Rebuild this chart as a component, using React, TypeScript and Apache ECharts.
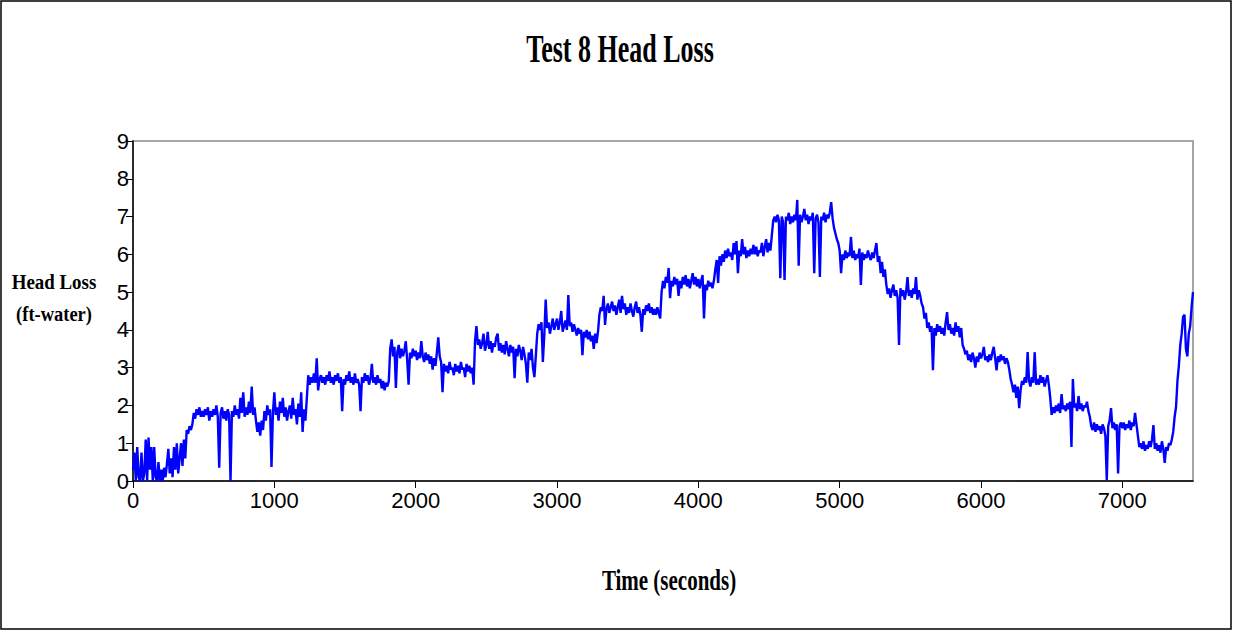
import React, { useEffect, useRef } from "react";
import * as echarts from "echarts";

// Sampling interval of the logged record (seconds)
const SAMPLE_SECONDS = 10;

// Head loss (ft-water), one reading every SAMPLE_SECONDS from t = 0 to 7500 s
// (one row = 100 s)
const headLoss: number[] = [
  0.3, 0.75, 0.0, 0.9, 0.1, 0.0, 0.75, 0.0, 0.2, 1.1,
  0.0, 1.15, 0.3, 0.9, 0.0, 0.9, 0.1, 0.0, 0.5, 0.0,
  0.3, 0.0, 0.35, 0.1, 0.45, 0.85, 0.2, 0.6, 0.1, 0.9,
  0.3, 1.0, 0.2, 0.6, 1.0, 0.4, 1.1, 0.6, 1.35, 1.25,
  1.45, 1.35, 1.5, 1.8, 1.65, 1.9, 1.75, 1.95, 1.7, 1.85,
  1.7, 1.9, 1.75, 1.95, 1.6, 1.85, 1.7, 1.9, 1.75, 2.0,
  1.7, 0.35, 1.8, 1.95, 1.65, 1.85, 1.6, 1.9, 1.75, 0.0,
  1.85, 1.7, 2.0, 1.75, 1.9, 1.65, 2.2, 1.8, 2.35, 1.7,
  1.95, 1.75, 2.1, 1.8, 2.5, 1.75, 1.95, 1.6, 1.3, 1.55,
  1.2, 1.6, 1.35, 1.85, 1.6, 2.0, 1.75, 1.9, 0.37, 1.8,
  2.35, 1.75, 1.95, 1.6, 2.1, 1.8, 2.2, 1.7, 1.95, 1.6,
  1.85, 2.0, 1.65, 2.2, 1.75, 1.9, 1.5, 2.05, 1.7, 2.35,
  1.3, 1.9, 1.6, 2.2, 2.8, 2.55, 2.75, 2.6, 2.85, 2.6,
  3.25, 2.4, 2.7, 2.8, 2.6, 2.75, 2.55, 2.8, 2.65, 2.9,
  2.6, 2.75, 2.55, 2.8, 2.65, 2.85, 2.6, 2.75, 1.85, 2.7,
  2.55, 2.8, 2.65, 2.9, 2.6, 2.75, 2.55, 2.85, 2.6, 2.7,
  2.55, 1.85, 2.75, 2.6, 2.85, 2.65, 2.8, 2.55, 2.7, 3.1,
  2.6, 2.75, 2.55, 2.8, 2.6, 2.7, 2.45, 2.65, 2.4, 2.6,
  2.5, 2.65, 3.5, 3.75, 3.3, 3.55, 2.46, 3.4, 3.6, 3.25,
  3.5, 3.3, 3.45, 3.7, 3.2, 2.55, 3.4, 3.25, 3.5, 3.3,
  3.45, 3.2, 3.4, 3.25, 3.7, 3.3, 3.15, 3.4, 3.2, 3.35,
  3.1, 3.3, 2.95, 3.25, 3.05, 3.4, 3.8, 3.3, 3.15, 2.35,
  3.1, 2.9, 3.05, 2.85, 3.15, 2.95, 3.0, 2.8, 3.1, 2.9,
  3.05, 2.85, 3.15, 2.95, 3.0, 2.75, 3.1, 2.9, 3.05, 2.85,
  3.0, 2.55, 3.7, 4.1, 3.6, 3.75, 3.5, 3.65, 3.9, 3.45,
  3.6, 3.95, 3.5, 3.7, 3.4, 3.65, 3.55, 3.8, 3.9, 3.45,
  3.65, 3.4, 3.6, 3.35, 3.7, 3.5, 3.3, 3.6, 3.4, 3.55,
  2.72, 3.5, 3.3, 3.6, 3.45, 3.2, 3.55, 3.35, 3.1, 2.6,
  3.4, 3.2, 3.5, 3.0, 2.75, 3.3, 3.9, 4.15, 4.0, 4.2,
  3.15, 3.85, 4.8, 4.05, 4.2, 3.9, 4.1, 4.3, 4.0, 4.15,
  4.3, 4.0, 4.2, 4.5, 3.95, 4.1, 4.25, 4.0, 4.92, 4.1,
  4.2, 3.95, 4.15, 4.0, 3.85, 4.05, 3.9, 4.0, 3.33, 3.95,
  3.8, 4.0, 3.75, 3.95, 3.7, 3.85, 3.5, 3.9, 3.65, 3.95,
  4.4, 4.6, 4.5, 4.9, 4.13, 4.55, 4.7, 4.45, 4.6, 4.75,
  4.5, 4.65, 4.4, 4.6, 4.8, 4.45, 4.9, 4.55, 4.7, 4.4,
  4.6, 4.45, 4.7, 4.5, 4.35, 4.6, 4.75, 4.45, 4.6, 4.4,
  3.95, 4.55, 4.4, 4.65, 4.5, 4.7, 4.45, 4.6, 4.4, 4.55,
  4.4, 4.6, 4.45, 4.3, 5.0, 5.3, 5.1, 5.4, 5.25, 5.64,
  4.84, 5.3, 5.15, 5.4, 5.2, 5.35, 4.9, 5.3, 5.1, 5.4,
  5.2, 5.45, 5.15, 5.35, 5.1, 5.3, 5.5, 5.2, 5.4, 5.15,
  5.35, 5.1, 5.3, 5.45, 4.3, 5.2, 5.05, 5.3, 5.15, 5.25,
  5.1, 5.3, 5.6, 5.85, 5.24, 5.95, 5.7, 6.0, 5.8, 6.1,
  5.9, 6.15, 5.95, 6.05, 5.85, 6.3, 6.0, 6.35, 5.5, 6.1,
  5.95, 6.4, 6.0, 6.2, 5.9, 6.1, 5.95, 6.15, 6.0, 6.25,
  6.0, 6.2, 5.95, 6.1, 6.05, 6.3, 5.95, 6.2, 6.4, 6.05,
  6.3, 6.1, 6.5, 6.9, 7.0, 6.85, 7.05, 6.9, 5.37, 7.0,
  6.85, 5.32, 7.0, 6.9, 7.1, 6.8, 7.0, 6.85, 7.05, 6.9,
  7.44, 5.7, 7.05, 6.85, 7.0, 7.2, 6.9, 7.05, 6.8, 7.0,
  6.9, 7.1, 5.5, 6.95, 7.05, 6.85, 5.4, 7.0, 6.9, 7.1,
  6.85, 7.05, 6.95, 7.1, 7.38, 6.95, 6.7, 6.55, 6.4, 6.3,
  6.1, 5.5, 6.0, 5.85, 6.1, 5.9, 6.05, 5.95, 6.46, 5.9,
  6.1, 5.85, 6.0, 5.9, 6.15, 5.19, 6.05, 5.85, 6.0, 5.9,
  6.1, 5.95, 5.85, 6.05, 5.9, 6.1, 6.3, 5.8, 5.95, 5.5,
  5.8, 5.4, 5.6, 5.2, 4.95, 5.1, 4.85, 5.05, 5.2, 4.9,
  5.05, 4.85, 3.6, 5.1, 4.9, 5.05, 4.8, 5.0, 5.4, 4.9,
  5.05, 4.85, 5.1, 4.95, 5.4, 4.8, 5.05, 4.9, 4.7, 4.6,
  4.3, 4.45, 4.05, 4.2, 3.95, 4.1, 2.93, 4.05, 3.85, 4.15,
  3.95, 4.1, 3.9, 4.05, 3.85, 4.2, 4.47, 4.0, 4.15, 3.9,
  4.05, 3.85, 4.2, 3.95, 4.1, 3.8, 4.05, 3.6, 3.5, 3.35,
  3.45, 3.2, 3.35, 3.15, 3.4, 3.25, 3.0, 3.3, 3.15, 3.4,
  3.25, 3.35, 3.55, 3.2, 3.3, 3.15, 3.35, 3.2, 3.4, 3.55,
  3.25, 2.93, 3.3, 3.15, 3.35, 3.2, 3.3, 3.1, 3.25, 3.15,
  2.95, 2.7, 2.55, 2.35, 2.55, 2.2, 2.5, 1.93, 2.4, 2.65,
  2.55, 2.75, 2.6, 3.41, 2.65, 2.5, 2.75, 2.6, 3.41, 2.55,
  2.7, 2.55, 2.8, 2.6, 2.75, 2.5, 2.65, 2.8, 2.55, 2.2,
  1.75, 1.95, 1.8, 2.0, 1.85, 2.05, 1.8, 2.3, 1.9, 2.0,
  1.85, 2.05, 1.9, 2.1, 0.9, 2.7, 1.95, 2.05, 1.85, 2.25,
  1.9, 2.05, 1.85, 2.0, 1.95, 2.1, 1.85, 1.7, 1.45, 1.35,
  1.55, 1.3, 1.5, 1.35, 1.45, 1.25, 1.5, 1.4, 1.2, 0.02,
  1.45, 1.6, 1.93, 1.4, 1.55, 1.35, 1.5, 0.2, 1.45, 1.55,
  1.4, 1.55, 1.35, 1.5, 1.4, 1.6, 1.35, 1.55, 1.45, 1.8,
  1.5, 1.2, 0.9, 1.0, 0.85, 1.05, 0.8, 0.95, 0.85, 1.05,
  0.9, 1.1, 1.48, 0.85, 1.0, 0.8, 0.95, 0.75, 1.05, 0.85,
  0.48, 0.9, 0.8, 1.0, 0.95, 1.1, 1.3, 1.7, 1.96, 2.65,
  3.05, 3.6, 3.9, 4.35, 4.4, 3.5, 3.3, 3.9, 4.1, 4.6,
  5.0,
];

const timeSeconds: number[] = headLoss.map((_, i) => i * SAMPLE_SECONDS);

const X_MIN = 0;
const X_MAX = 7500;
const X_STEP = 1000;
const Y_MIN = 0;
const Y_MAX = 9;
const Y_STEP = 1;

const TITLE = "Test 8 Head Loss";
const X_TITLE = "Time (seconds)";
const Y_TITLE_LINES = ["Head Loss", "(ft-water)"];

const SERIF = "'Liberation Serif', 'Times New Roman', serif";
const SANS = "'Liberation Sans', Arial, sans-serif";

export default function App() {
  const ref = useRef<HTMLDivElement>(null);

  useEffect(() => {
    if (!ref.current) return;
    const chart = echarts.init(ref.current, undefined, { renderer: "svg" });
    const data = timeSeconds.map((t, i) => [t, headLoss[i]]);

    chart.setOption({
      animation: false,
      backgroundColor: "#ffffff",
      grid: {
        left: 133,
        right: 40,
        top: 141,
        bottom: 151,
        show: true,
        borderColor: "#a6a6a6",
        borderWidth: 2,
        backgroundColor: "transparent",
      },
      xAxis: {
        type: "value",
        min: X_MIN,
        max: X_MAX,
        interval: X_STEP,
        splitLine: { show: false },
        axisLine: { show: true, onZero: false, lineStyle: { color: "#000", width: 1.5 } },
        axisTick: { show: true, inside: false, length: 7, lineStyle: { color: "#000", width: 1 } },
        axisLabel: {
          showMaxLabel: false,
          color: "#000",
          fontFamily: SANS,
          fontSize: 22,
          margin: 8,
          formatter: (v: number) => String(v),
        },
      },
      yAxis: {
        type: "value",
        min: Y_MIN,
        max: Y_MAX,
        interval: Y_STEP,
        splitLine: { show: false },
        axisLine: { show: true, onZero: false, lineStyle: { color: "#000", width: 1.5 } },
        axisTick: { show: true, inside: false, length: 7, lineStyle: { color: "#000", width: 1 } },
        axisLabel: {
          color: "#000",
          fontFamily: SANS,
          fontSize: 22,
          margin: 4,
          formatter: (v: number) => String(v),
        },
      },
      graphic: [
        {
          type: "rect",
          shape: { x: 1, y: 1, width: 1230, height: 628 },
          style: { fill: "none", stroke: "#000", lineWidth: 1.5 },
          silent: true,
          z: 100,
        },
        {
          type: "text",
          x: 620,
          y: 48,
          scaleX: 0.65,
          style: {
            text: TITLE,
            fontFamily: SERIF,
            fontWeight: "bold",
            fontSize: 40,
            fill: "#000",
            align: "center",
            verticalAlign: "middle",
          },
        },
        {
          type: "text",
          x: 54,
          y: 281,
          scaleX: 0.86,
          style: {
            text: Y_TITLE_LINES[0],
            fontFamily: SERIF,
            fontWeight: "bold",
            fontSize: 22,
            fill: "#000",
            align: "center",
            verticalAlign: "middle",
          },
        },
        {
          type: "text",
          x: 54,
          y: 313,
          scaleX: 0.84,
          style: {
            text: Y_TITLE_LINES[1],
            fontFamily: SERIF,
            fontWeight: "bold",
            fontSize: 22,
            fill: "#000",
            align: "center",
            verticalAlign: "middle",
          },
        },
        {
          type: "text",
          x: 669,
          y: 580,
          scaleX: 0.7,
          style: {
            text: X_TITLE,
            fontFamily: SERIF,
            fontWeight: "bold",
            fontSize: 30,
            fill: "#000",
            align: "center",
            verticalAlign: "middle",
          },
        },
      ],
      series: [
        {
          type: "line",
          data,
          showSymbol: false,
          symbol: "none",
          lineStyle: { color: "#0000ff", width: 2.4 },
          clip: true,
          z: 3,
        },
      ],
    });

    return () => chart.dispose();
  }, []);

  return (
    <div
      ref={ref}
      style={{ position: "absolute", left: 0, top: 0, width: 1233, height: 632 }}
    />
  );
}
